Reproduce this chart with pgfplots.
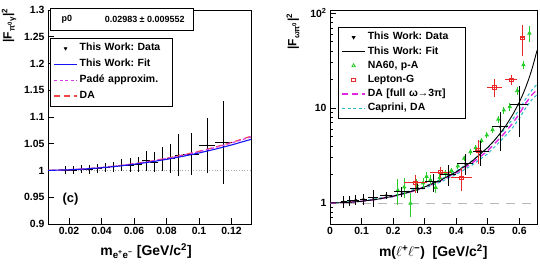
\documentclass[border=0pt]{standalone}
\usepackage{fontspec}
\setmainfont{Liberation Sans}
\usepackage{pgfplots}
\pgfplotsset{compat=1.18}
\usepackage{pgfplotstable}

\definecolor{rootblue}{RGB}{20,20,245}
\definecolor{rootred}{RGB}{240,70,70}
\definecolor{rootmag}{RGB}{215,60,235}
\definecolor{rootgreen}{RGB}{40,205,40}
\definecolor{lepred}{RGB}{235,40,40}
\definecolor{dacyan}{RGB}{40,185,200}
\definecolor{damag}{RGB}{225,40,225}

\pgfplotstableread{
x y ex ey
0.0175 1.0006 0.0025 0.0075
0.0225 1.0006 0.0025 0.0072
0.0275 1.0020 0.0025 0.0075
0.0325 1.0020 0.0025 0.0078
0.0375 1.0040 0.0025 0.0080
0.0425 1.0050 0.0025 0.0087
0.0475 1.0070 0.0025 0.0096
0.0525 1.0096 0.0025 0.0110
0.0575 1.0100 0.0025 0.0128
0.0625 1.0115 0.0025 0.0140
0.0675 1.0180 0.0025 0.0190
0.0725 1.0160 0.0025 0.0180
0.0775 1.0210 0.0025 0.0220
0.0825 1.0224 0.0025 0.0280
0.0875 1.0290 0.0025 0.0385
0.0950 1.0310 0.0050 0.0400
0.1050 1.0470 0.0050 0.0510
0.1150 1.0520 0.0050 0.0780
}\leftdata

\pgfplotstableread{
x y
0.007 1.00016
0.02 1.00128
0.03 1.00289
0.04 1.00514
0.05 1.00805
0.06 1.01161
0.07 1.01587
0.08 1.02080
0.09 1.02643
0.10 1.03279
0.11 1.03987
0.12 1.04772
0.132 1.05818
}\leftfit

\pgfplotstableread{
x y
0.007 1.00017
0.02 1.00138
0.03 1.00310
0.04 1.00553
0.05 1.00866
0.06 1.01250
0.07 1.01707
0.08 1.02238
0.09 1.02846
0.10 1.03531
0.11 1.04296
0.12 1.05144
0.132 1.06274
}\leftpade

\pgfplotstableread{
x y
0.007 1.00017
0.02 1.00140
0.03 1.00316
0.04 1.00562
0.05 1.00881
0.06 1.01272
0.07 1.01737
0.08 1.02278
0.09 1.02896
0.10 1.03594
0.11 1.04373
0.12 1.05237
0.132 1.06389
}\leftda

\pgfplotstableread{
x y ex ey
0.044 1.03 0.010 0.15
0.063 1.05 0.009 0.13
0.082 1.07 0.009 0.13
0.106 1.09 0.012 0.14
0.137 1.13 0.015 0.23
0.178 1.20 0.020 0.09
0.227 1.31 0.025 0.15
0.277 1.42 0.025 0.15
0.327 1.67 0.025 0.35
0.375 2.00 0.025 0.50
0.428 2.60 0.025 0.65
0.478 3.46 0.026 1.00
0.539 6.35 0.025 2.80
0.599 10.9 0.027 6.00
}\rightdata

\pgfplotstableread{
x y
0.00 1.0
0.05 1.00987
0.10 1.0404
0.15 1.0944
0.20 1.1774
0.25 1.2987
0.30 1.4742
0.35 1.7318
0.40 2.1225
0.45 2.7493
0.50 3.8447
0.52 4.5266
0.54 5.4473
0.56 6.7346
0.58 8.6169
0.60 11.538
0.61 13.648
0.62 16.447
0.63 20.276
0.64 25.72
0.65 33.84
0.656 40.5
}\rightfit

\pgfplotstableread{
x y
0.00 1.0
0.05 1.01
0.10 1.04
0.15 1.094
0.20 1.175
0.25 1.295
0.30 1.465
0.35 1.715
0.40 2.08
0.45 2.63
0.50 3.55
0.55 5.3
0.58 7.0
0.60 8.7
0.62 11.2
0.64 13.8
0.656 15.6
}\rightda

\pgfplotstableread{
x y
0.00 1.0
0.10 1.045
0.20 1.19
0.30 1.50
0.35 1.77
0.40 2.17
0.45 2.78
0.50 3.82
0.55 5.8
0.58 7.7
0.60 9.7
0.62 12.5
0.64 15.5
0.656 17.8
}\caprup

\pgfplotstableread{
x y
0.00 1.0
0.10 1.035
0.20 1.16
0.30 1.43
0.35 1.66
0.40 2.0
0.45 2.5
0.50 3.3
0.55 4.85
0.58 6.3
0.60 7.8
0.62 10.0
0.64 12.3
0.656 13.8
}\caprlo

\pgfplotstableread{
x y ex ey
0.215 1.36 0.005 0.42
0.235 1.47 0.005 0.35
0.255 0.99 0.005 0.28
0.275 1.55 0.005 0.22
0.295 1.62 0.005 0.20
0.306 1.90 0.005 0.20
0.318 1.75 0.005 0.20
0.335 1.45 0.005 0.18
0.348 1.85 0.005 0.16
0.365 2.05 0.005 0.16
0.385 2.20 0.005 0.16
0.405 2.45 0.005 0.16
0.425 2.95 0.005 0.20
0.445 3.45 0.005 0.25
0.462 3.80 0.005 0.25
0.480 4.55 0.005 0.30
0.497 5.20 0.005 0.35
0.515 5.90 0.005 0.45
0.533 7.60 0.005 0.60
0.551 9.50 0.005 0.80
0.570 10.3 0.005 1.00
0.593 15.2 0.005 1.60
0.613 28.5 0.005 3.00
0.632 61.5 0.005 12.0
}\nasixty

\pgfplotstableread{
x y ex ey
0.270 1.63 0.037 0.36
0.350 2.12 0.032 0.30
0.417 1.84 0.032 0.50
0.470 3.60 0.012 1.00
0.521 16.5 0.024 3.50
0.574 19.8 0.020 2.50
0.610 55.0 0.008 20.0
}\leptong

\pgfplotsset{
  lineimg/.style={legend image code/.code={\draw[##1] (0bp,0bp) -- (23bp,0bp);}},
  markimg/.style={legend image code/.code={\draw[mark repeat=2,mark phase=2,##1] plot coordinates {(0bp,0bp) (11.5bp,0bp) (23bp,0bp)};}},
  rootstyle/.style={
    scale only axis, height=214bp,
    tick align=inside, xtick pos=bottom, ytick pos=left,
    axis line style={line width=0.8pt},
    major tick length=6bp, minor tick length=3bp,
    every tick/.style={line width=0.6pt, black},
    tick label style={font=\bfseries\fontsize{10.5}{12}\selectfont},
    /pgf/number format/assume math mode=true,
    clip mode=individual,
    legend cell align=left,
    label style={font=\bfseries\fontsize{14}{16}\selectfont},
  },
}

\begin{document}
\frenchspacing
\begin{tikzpicture}[font=\bfseries]
\useasboundingbox (-48bp,-46bp) rectangle (492bp,224bp);

% ---------------- left panel
\begin{axis}[rootstyle, at={(0,0)}, anchor=south west, width=203bp,
  xmin=0.007, xmax=0.132, ymin=0.9, ymax=1.3,
  xtick={0.02,0.04,0.06,0.08,0.1,0.12},
  xticklabels={0.02,0.04,0.06,0.08,0.1,0.12},
  ytick={0.9,0.95,1,1.05,1.1,1.15,1.2,1.25,1.3},
  yticklabels={0.9,0.95,1,1.05,1.1,1.15,1.2,1.25,1.3},
  xlabel={m\textsubscript{e\textsuperscript{+}e\textsuperscript{−}} [GeV/c\textsuperscript{2}]},
  xlabel style={at={(axis description cs:0.483,-0.126)}, anchor=center},
  ylabel={|F\textsubscript{π\textsuperscript{0}γ}|\textsuperscript{2}},
  ylabel style={at={(axis description cs:-0.192,1.023)}, anchor=east, font=\bfseries\fontsize{12}{14}\selectfont},
  legend style={at={(axis description cs:0.01,0.869)}, anchor=north west,
    draw=black, line width=0.8pt, fill=white, inner sep=3bp,
    font=\bfseries\fontsize{10.5}{12}\selectfont, row sep=1.9bp,
    nodes={inner sep=2bp, text height=7.5bp, text depth=2.5bp},
    /tikz/every even column/.append style={text width=88bp}},
]
\addlegendimage{markimg, only marks, black, mark=triangle*, mark size=1.4pt, mark options={rotate=180}}
\addlegendentry{This Work: Data}
\addlegendimage{lineimg, rootblue, line width=1.1pt}
\addlegendentry{This Work: Fit}
\addlegendimage{lineimg, rootmag, line width=1.3pt, dash pattern=on 3bp off 2.5bp}
\addlegendentry{Padé approxim.}
\addlegendimage{lineimg, rootred, line width=1.3pt, dash pattern=on 6bp off 4bp}
\addlegendentry{DA}

\addplot[gray!70, dotted, line width=0.7pt, forget plot] coordinates {(0.007,1) (0.132,1)};
\addplot[black, only marks, mark=*, mark size=0.6pt, forget plot,
  error bars/.cd, x dir=both, x explicit, y dir=both, y explicit,
  error bar style={line width=0.8pt, black}, error mark=none]
  table[x=x, y=y, x error=ex, y error=ey]{\leftdata};
\addplot[rootred, line width=1.2pt, dash pattern=on 6bp off 4bp, forget plot] table[x=x,y=y]{\leftda};
\addplot[rootmag, line width=1.2pt, dash pattern=on 3bp off 2.5bp, forget plot] table[x=x,y=y]{\leftpade};
\addplot[rootblue, line width=1.1pt, forget plot] table[x=x,y=y]{\leftfit};

\draw[line width=0.8pt, fill=white] (axis description cs:0.01,0.9065) rectangle (axis description cs:0.714,1.009);
\node[anchor=west, font=\bfseries\fontsize{9}{10}\selectfont] at (axis description cs:0.05,0.958) {p0};
\node[anchor=east, font=\bfseries\fontsize{9}{10}\selectfont] at (axis description cs:0.69,0.958) {0.02983 ± 0.009552};
\node[font=\bfseries\fontsize{13}{15}\selectfont] at (axis description cs:0.111,0.117) {(c)};
\end{axis}

% ---------------- right panel
\begin{axis}[rootstyle, at={(282bp,0)}, anchor=south west, width=207bp,
  xmin=0, xmax=0.656, ymode=log, ymin=0.6, ymax=108,
  xtick={0,0.1,0.2,0.3,0.4,0.5,0.6},
  xticklabels={0,0.1,0.2,0.3,0.4,0.5,0.6},
  ytick={1,10,100}, yticklabels={1,10,10\textsuperscript{2}},
  minor ytick={0.6,0.7,0.8,0.9,2,3,4,5,6,7,8,9,20,30,40,50,60,70,80,90},
  xlabel={m($\ell$\textsuperscript{+}$\ell$\textsuperscript{−})~~[GeV/c\textsuperscript{2}]},
  xlabel style={at={(axis description cs:0.499,-0.131)}, anchor=center},
  ylabel={|F\textsubscript{ωπ\textsuperscript{0}}|\textsuperscript{2}},
  ylabel style={at={(axis description cs:-0.179,1.0)}, anchor=east, font=\bfseries\fontsize{12}{14}\selectfont},
  legend style={at={(axis description cs:0.039,0.921)}, anchor=north west,
    draw=black, line width=0.8pt, fill=white, inner sep=3bp,
    font=\bfseries\fontsize{10.5}{12}\selectfont, row sep=0.2bp,
    nodes={inner sep=2bp, text height=7.5bp, text depth=2.5bp},
    /tikz/every even column/.append style={text width=93bp}},
]
\addlegendimage{markimg, only marks, black, mark=triangle*, mark size=1.6pt, mark options={rotate=180}}
\addlegendentry{This Work: Data}
\addlegendimage{lineimg, black, line width=0.9pt}
\addlegendentry{This Work: Fit}
\addlegendimage{markimg, only marks, rootgreen, mark=triangle, mark size=2pt, mark options={line width=0.8pt}}
\addlegendentry{NA60, p-A}
\addlegendimage{markimg, only marks, lepred, mark=square, mark size=1.9pt, mark options={line width=0.8pt}}
\addlegendentry{Lepton-G}
\addlegendimage{lineimg, damag, line width=1.3pt, dash pattern=on 6bp off 4bp}
\addlegendentry{DA [full ω→3π]}
\addlegendimage{lineimg, dacyan, line width=1.1pt, dash pattern=on 3bp off 2.5bp}
\addlegendentry{Caprini, DA}

\addplot[gray!55, line width=0.8pt, dash pattern=on 9bp off 7bp, forget plot] coordinates {(0,1) (0.656,1)};
\addplot[dacyan, line width=1pt, dash pattern=on 3bp off 2.5bp, forget plot] table[x=x,y=y]{\caprup};
\addplot[dacyan, line width=1pt, dash pattern=on 3bp off 2.5bp, forget plot] table[x=x,y=y]{\caprlo};
\addplot[damag, line width=1.4pt, dash pattern=on 6bp off 4bp, forget plot] table[x=x,y=y]{\rightda};
\addplot[black, line width=0.9pt, forget plot] table[x=x,y=y]{\rightfit};
\addplot[rootgreen, only marks, mark=triangle, mark size=1.8pt, mark options={line width=0.8pt}, forget plot,
  error bars/.cd, x dir=both, x explicit, y dir=both, y explicit,
  error bar style={line width=0.9pt, rootgreen}, error mark=none]
  table[x=x, y=y, x error=ex, y error=ey]{\nasixty};
\addplot[lepred, only marks, mark=square, mark size=1.8pt, mark options={line width=0.8pt}, forget plot,
  error bars/.cd, x dir=both, x explicit, y dir=both, y explicit,
  error bar style={line width=0.9pt, lepred}, error mark=none]
  table[x=x, y=y, x error=ex, y error=ey]{\leptong};
\addplot[black, only marks, mark=triangle*, mark size=1.2pt, mark options={rotate=180}, forget plot,
  error bars/.cd, x dir=both, x explicit, y dir=both, y explicit,
  error bar style={line width=1pt, black}, error mark=none]
  table[x=x, y=y, x error=ex, y error=ey]{\rightdata};
\end{axis}
\end{tikzpicture}
\end{document}
